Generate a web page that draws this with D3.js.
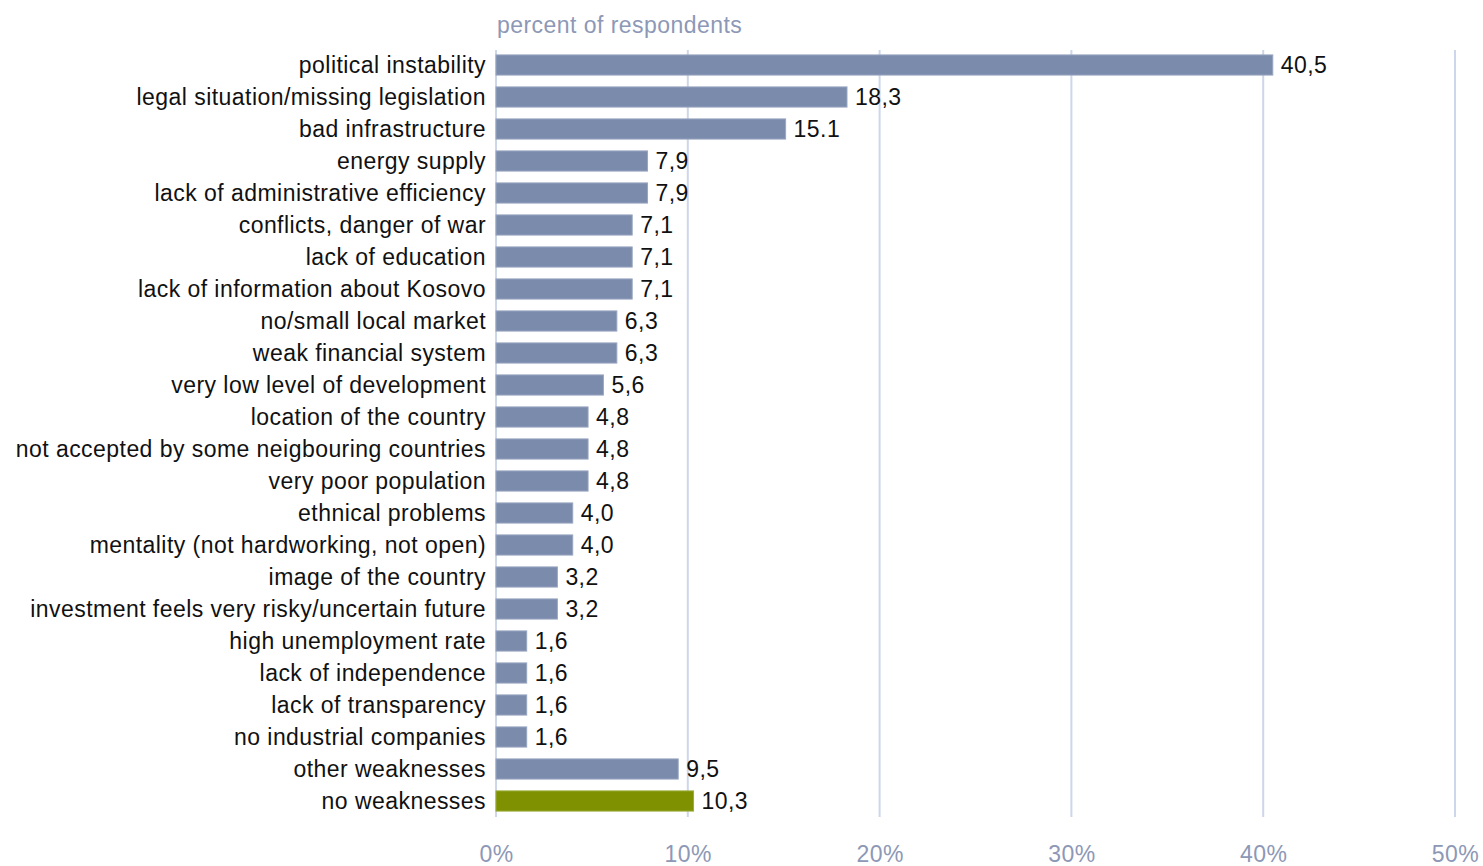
<!DOCTYPE html>
<html><head><meta charset="utf-8">
<script src="https://cdn.jsdelivr.net/npm/d3@7"></script>
<style>body{margin:0;background:#fff;} svg{display:block;}</style>
</head><body>
<svg id="c" width="1483" height="866"></svg>
<script>
const categories = ["political instability","legal situation/missing legislation","bad infrastructure","energy supply","lack of administrative efficiency","conflicts, danger of war","lack of education","lack of information about Kosovo","no/small local market","weak financial system","very low level of development","location of the country","not accepted by some neigbouring countries","very poor population","ethnical problems","mentality (not hardworking, not open)","image of the country","investment feels very risky/uncertain future","high unemployment rate","lack of independence","lack of transparency","no industrial companies","other weaknesses","no weaknesses"];
const values = [40.5,18.3,15.1,7.9,7.9,7.1,7.1,7.1,6.3,6.3,5.6,4.8,4.8,4.8,4.0,4.0,3.2,3.2,1.6,1.6,1.6,1.6,9.5,10.3];
const valueLabels = ["40,5","18,3","15.1","7,9","7,9","7,1","7,1","7,1","6,3","6,3","5,6","4,8","4,8","4,8","4,0","4,0","3,2","3,2","1,6","1,6","1,6","1,6","9,5","10,3"];
const ticks = [0,10,20,30,40,50];
const highlight = "no weaknesses";

const svg = d3.select("#c");
const font = "'Liberation Sans', Arial, sans-serif";
const fs = 23, ls = "0.45";
const x = d3.scaleLinear().domain([0,50]).range([496,1455]);
const y = d3.scaleBand().domain(categories).range([49,817]).paddingInner(0.37).paddingOuter(0.185);

// gridlines
svg.append("g").selectAll("line").data(ticks).join("line")
  .attr("x1",d=>x(d)).attr("x2",d=>x(d)).attr("y1",50).attr("y2",817)
  .attr("stroke","#cdd7ea").attr("stroke-width",2);

// axis tick labels
const ax = svg.append("g").attr("transform","translate(0,817)")
  .call(d3.axisBottom(x).tickValues(ticks).tickFormat(d=>d+"%").tickSize(0).tickPadding(29));
ax.select(".domain").remove();
ax.selectAll("text").attr("font-family",font).attr("font-size",fs).attr("fill","#8d98b6").attr("letter-spacing",ls);

// bars
svg.append("g").selectAll("rect").data(categories).join("rect")
  .attr("x",x(0)).attr("y",d=>y(d))
  .attr("width",(d,i)=>x(values[i])-x(0)).attr("height",y.bandwidth())
  .attr("fill",d=>d===highlight?"#7f9100":"#7a8bab")
  .attr("stroke",d=>d===highlight?"#9aab3a":"#98a6c0").attr("stroke-width",1);

// category labels
svg.append("g").selectAll("text").data(categories).join("text")
  .attr("x",486).attr("y",d=>y(d)+y.bandwidth()/2).attr("dy","0.35em")
  .attr("text-anchor","end").attr("font-family",font).attr("font-size",fs)
  .attr("fill","#111").attr("letter-spacing",ls).text(d=>d);

// value labels
svg.append("g").selectAll("text").data(categories).join("text")
  .attr("x",(d,i)=>x(values[i])+8).attr("y",d=>y(d)+y.bandwidth()/2).attr("dy","0.35em")
  .attr("font-family",font).attr("font-size",fs).attr("fill","#111").attr("letter-spacing",ls)
  .text((d,i)=>valueLabels[i]);

// title
svg.append("text").attr("x",497).attr("y",33).attr("font-family",font).attr("font-size",fs)
  .attr("fill","#8d98b6").attr("letter-spacing",ls).text("percent of respondents");
</script>
</body></html>
